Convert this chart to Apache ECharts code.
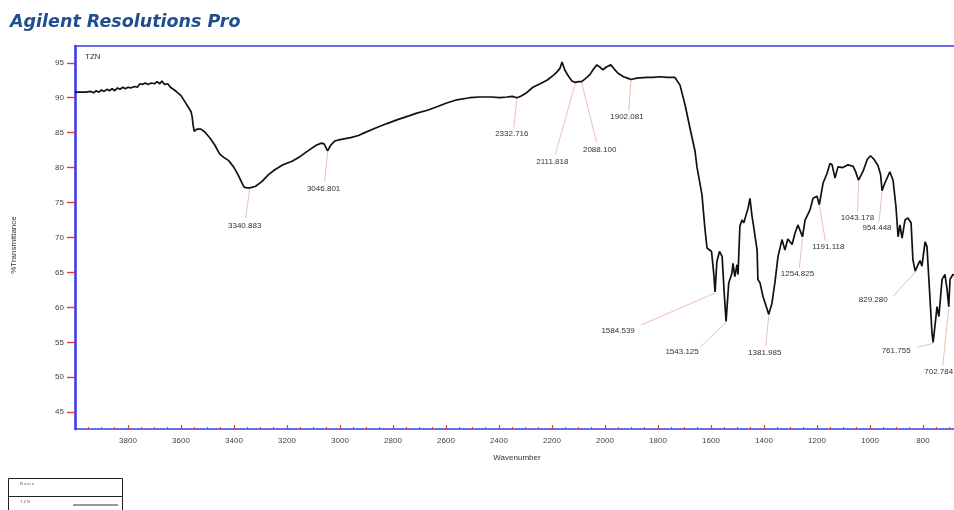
<!DOCTYPE html>
<html>
<head>
<meta charset="utf-8">
<title>TZN FTIR spectrum</title>
<script src="https://cdn.jsdelivr.net/npm/echarts@6/dist/echarts.min.js"></script>
<style>
  html, body { margin: 0; padding: 0; background: #ffffff; }
  #chart { width: 954px; height: 510px; }
</style>
</head>
<body>
<div id="chart"></div>
<script>
// FTIR spectrum of sample TZN: wavenumber (cm-1) and % transmittance
const wavenumbers = [
  4000, 3960, 3940, 3930, 3920, 3910, 3900, 3890, 3880, 3870, 3860, 3850, 3840, 3830, 3820, 3810,
  3800, 3790, 3775, 3765, 3755, 3745, 3735, 3725, 3712, 3700, 3690, 3680, 3672, 3662, 3650, 3640,
  3625, 3612, 3600, 3585, 3570, 3562, 3558, 3554, 3550, 3540, 3525, 3510, 3490, 3472, 3455, 3440,
  3420, 3400, 3385, 3370, 3362, 3350, 3340.883, 3320, 3295, 3270, 3246, 3215, 3181, 3150, 3121,
  3090, 3070, 3060, 3046.801, 3035, 3020, 3000, 2960, 2930, 2913, 2870, 2823, 2780, 2740, 2710,
  2670, 2634, 2600, 2559, 2510, 2472, 2430, 2396, 2370, 2350, 2332.716, 2318, 2300, 2272, 2245,
  2219, 2195, 2181, 2170, 2162, 2152, 2140, 2125, 2111.818, 2100, 2088.1, 2075, 2057, 2045, 2031,
  2020, 2008, 1995, 1978, 1965, 1951, 1930, 1915, 1902.081, 1880, 1842, 1820, 1793, 1765, 1736,
  1717, 1698, 1679, 1660, 1653, 1634, 1623, 1615, 1608, 1598, 1590, 1584.539, 1578, 1568, 1558,
  1550, 1543.125, 1533, 1521, 1517, 1510, 1502, 1498, 1491, 1483, 1476, 1468, 1460, 1453, 1445,
  1440, 1426, 1423, 1415, 1404, 1381.985, 1370, 1359, 1347, 1332, 1321, 1310, 1294, 1283, 1272,
  1254.825, 1245, 1226, 1215, 1200, 1191.118, 1177, 1162, 1151, 1143, 1132, 1121, 1102, 1083, 1064,
  1055, 1043.178, 1026, 1010, 998, 985, 970, 960, 954.448, 944, 925, 913, 902, 894, 887, 879, 868,
  857, 845, 838, 829.28, 819, 811, 804, 792, 785, 777, 766, 761.755, 751, 747, 740, 728, 717, 709,
  702.784, 698, 687, 670, 650
];
const transmittance = [
  90.8, 90.8, 90.9, 90.7, 91.0, 90.8, 91.1, 90.9, 91.2, 91.0, 91.3, 91.0, 91.4, 91.2, 91.5, 91.3,
  91.5, 91.4, 91.6, 91.5, 92.0, 91.9, 92.1, 91.9, 92.1, 92.0, 92.3, 92.0, 92.4, 91.9, 92.0, 91.5,
  91.1, 90.7, 90.3, 89.4, 88.5, 88.0, 87.3, 86.0, 85.2, 85.5, 85.5, 85.1, 84.2, 83.2, 82.0, 81.5,
  81.0, 80.0, 79.0, 77.8, 77.2, 77.1, 77.1, 77.3, 78.0, 79.0, 79.7, 80.4, 80.9, 81.6, 82.4,
  83.2, 83.5, 83.4, 82.4, 83.2, 83.8, 84.0, 84.3, 84.6, 84.9, 85.6, 86.3, 86.9, 87.4, 87.8,
  88.2, 88.7, 89.2, 89.7, 90.0, 90.1, 90.1, 90.0, 90.1, 90.2, 90.0, 90.2, 90.6, 91.5, 92.0,
  92.5, 93.2, 93.7, 94.2, 95.1, 94.0, 93.2, 92.4, 92.2, 92.3, 92.3, 92.7, 93.3, 94.0, 94.7,
  94.4, 94.0, 94.4, 94.7, 94.1, 93.5, 93.0, 92.8, 92.6, 92.8, 92.9, 92.9, 93.0, 92.9, 92.9,
  91.8, 89.0, 85.6, 82.3, 80.1, 76.1, 71.3, 68.5, 68.7, 68.0, 65.0, 62.2, 66.5, 68.0, 67.3,
  62.0, 58.0, 63.5, 64.9, 66.3, 64.4, 66.1, 64.7, 71.6, 72.5, 72.1, 73.2, 74.2, 75.6, 73.0,
  71.8, 68.2, 64.0, 63.5, 61.6, 59.0, 60.6, 63.5, 67.3, 69.7, 68.2, 69.8, 69.0, 70.6, 71.8,
  70.1, 72.5, 74.0, 75.6, 75.9, 74.7, 77.8, 79.2, 80.6, 80.4, 78.5, 80.1, 80.0, 80.4, 80.2,
  79.5, 78.2, 79.5, 81.2, 81.7, 81.2, 80.3, 79.0, 76.7, 77.8, 79.4, 78.2, 74.4, 70.1, 71.8, 69.9, 72.5,
  72.8, 72.1, 66.8, 65.2, 66.1, 66.7, 65.9, 69.4, 68.7, 63.5, 56.3, 55.0, 58.7, 60.1, 58.7, 64.0, 64.7, 62.5,
  60.1, 64.0, 64.7, 64.5, 64.2
];

// Picked peaks (wavenumbers) labelled on the spectrum
const peakWavenumbers = [
  3340.883, 3046.801, 2332.716, 2111.818, 2088.100, 1902.081, 1584.539, 1543.125,
  1381.985, 1254.825, 1191.118, 1043.178, 954.448, 829.280, 761.755, 702.784
];
const peakLabels = [
  '3340.883', '3046.801', '2332.716', '2111.818', '2088.100', '1902.081', '1584.539', '1543.125',
  '1381.985', '1254.825', '1191.118', '1043.178', '954.448', '829.280', '761.755', '702.784'
];

// Axis tick labels and minor tick positions
const xTickLabels = [3800, 3600, 3400, 3200, 3000, 2800, 2600, 2400, 2200, 2000, 1800, 1600, 1400, 1200, 1000, 800];
const xMinorTicks = [];
for (let w = 3950; w >= 700; w -= 50) if (w % 200 !== 0) xMinorTicks.push(w);
const yTickLabels = [45, 50, 55, 60, 65, 70, 75, 80, 85, 90, 95];

// Visible wavenumber window (the spectrum continues past the right edge)
const X_MAX = 4000;
const X_MIN = 683;

// Leader-line end and label text offsets (pixels from the peak point)
const peakLabelLayout = [
  { lx: -4, ly: 30, tx: -5, ty: 38 },
  { lx: -3, ly: 31, tx: -4, ty: 38 },
  { lx: -3, ly: 30, tx: -5, ty: 36 },
  { lx: -20, ly: 72, tx: -23, ty: 79 },
  { lx: 15, ly: 61, tx: 18, ty: 68 },
  { lx: -2, ly: 31, tx: -4, ty: 37 },
  { lx: -74, ly: 33, tx: -97, ty: 39 },
  { lx: -26, ly: 26, tx: -44, ty: 30 },
  { lx: -3, ly: 31, tx: -4, ty: 38 },
  { lx: -3, ly: 31, tx: -5, ty: 37 },
  { lx: 6, ly: 36, tx: 9, ty: 42 },
  { lx: -1, ly: 32, tx: -1, ty: 38 },
  { lx: -3, ly: 31, tx: -5, ty: 37 },
  { lx: -22, ly: 25, tx: -42, ty: 29 },
  { lx: -16, ly: 5, tx: -37, ty: 8 },
  { lx: -6, ly: 59, tx: -10, ty: 65 }
];

const spectrum = wavenumbers.map((w, i) => [w, transmittance[i]]);
const peakPoints = peakWavenumbers.map((w, i) => {
  let best = 0;
  wavenumbers.forEach((v, j) => { if (Math.abs(v - w) < Math.abs(wavenumbers[best] - w)) best = j; });
  return [w, transmittance[best], i];
});

const FONT = '"Liberation Sans", Arial, sans-serif';
const AXIS_BLUE = '#3c3ce6';
const TICK_RED = '#e23a3a';

const chart = echarts.init(document.getElementById('chart'), null, { renderer: 'canvas' });

const hidden = { show: false };

chart.setOption({
  backgroundColor: '#ffffff',
  animation: false,
  title: {
    text: 'Agilent Resolutions Pro',
    left: 5,
    top: 8,
    textStyle: {
      fontFamily: '"DejaVu Sans", Verdana, sans-serif',
      fontSize: 17.5,
      fontWeight: 'bold',
      fontStyle: 'italic',
      color: '#1f4f91'
    }
  },
  grid: {
    left: 75,
    top: 46,
    right: 0,
    bottom: 81,
    show: false
  },
  xAxis: [
    {
      // main wavenumber axis: blue line, red major ticks, labels
      type: 'value',
      inverse: true,
      min: X_MIN,
      max: X_MAX,
      position: 'bottom',
      axisLine: { show: true, lineStyle: { color: AXIS_BLUE, width: 1.5 } },
      axisTick: {
        show: true,
        inside: true,
        length: 4,
        lineStyle: { color: TICK_RED, width: 1.2 },
        customValues: xTickLabels
      },
      axisLabel: {
        customValues: xTickLabels,
        formatter: (v) => String(v),
        margin: 8,
        fontFamily: FONT,
        fontSize: 8,
        color: '#444'
      },
      splitLine: hidden
    },
    {
      // minor ticks every 50 cm-1
      type: 'value',
      inverse: true,
      min: X_MIN,
      max: X_MAX,
      position: 'bottom',
      axisLine: hidden,
      axisTick: {
        show: true,
        inside: true,
        length: 2,
        lineStyle: { color: TICK_RED, width: 1 },
        customValues: xMinorTicks
      },
      axisLabel: hidden,
      splitLine: hidden
    },
    {
      // top frame line of the plot area
      type: 'value',
      inverse: true,
      min: X_MIN,
      max: X_MAX,
      position: 'top',
      axisLine: { show: true, lineStyle: { color: AXIS_BLUE, width: 1.5 } },
      axisTick: hidden,
      axisLabel: hidden,
      splitLine: hidden
    }
  ],
  yAxis: {
    type: 'value',
    min: 42.6,
    max: 97.4,
    axisLine: { show: true, lineStyle: { color: AXIS_BLUE, width: 2.6 } },
    axisTick: {
      show: true,
      length: 8,
      lineStyle: { color: TICK_RED, width: 1.4 },
      customValues: yTickLabels
    },
    axisLabel: {
      customValues: yTickLabels,
      formatter: (v) => String(v),
      margin: 11,
      fontFamily: FONT,
      fontSize: 8,
      color: '#444'
    },
    splitLine: hidden
  },
  series: [
    {
      name: 'TZN',
      type: 'line',
      xAxisIndex: 0,
      data: spectrum,
      showSymbol: false,
      symbol: 'none',
      lineStyle: { color: '#111111', width: 1.7 },
      z: 3
    },
    {
      name: 'peaks',
      type: 'custom',
      xAxisIndex: 0,
      data: peakPoints,
      clip: false,
      z: 2,
      renderItem: function (params, api) {
        const i = api.value(2);
        const p = api.coord([api.value(0), api.value(1)]);
        const o = peakLabelLayout[i];
        return {
          type: 'group',
          children: [
            {
              type: 'line',
              shape: { x1: p[0], y1: p[1] + 1, x2: p[0] + o.lx, y2: p[1] + o.ly },
              style: { stroke: '#eab9a8', lineWidth: 0.9 }
            },
            {
              type: 'text',
              x: p[0] + o.tx,
              y: p[1] + o.ty,
              style: {
                text: peakLabels[i],
                align: 'center',
                verticalAlign: 'middle',
                fontFamily: FONT,
                fontSize: 8,
                fill: '#333333'
              }
            }
          ]
        };
      }
    }
  ],
  graphic: [
    {
      type: 'text',
      left: 85,
      top: 53,
      style: { text: 'TZN', fontFamily: FONT, fontSize: 8, fill: '#333333' }
    },
    {
      type: 'text',
      x: 14,
      y: 245,
      rotation: Math.PI / 2,
      style: {
        text: '%Transmittance',
        align: 'center',
        verticalAlign: 'middle',
        fontFamily: FONT,
        fontSize: 8,
        fill: '#333333'
      }
    },
    {
      type: 'text',
      x: 517,
      y: 458,
      style: {
        text: 'Wavenumber',
        align: 'center',
        verticalAlign: 'middle',
        fontFamily: FONT,
        fontSize: 8,
        fill: '#333333'
      }
    },
    // small legend table in the lower-left corner
    {
      type: 'rect',
      shape: { x: 8.5, y: 478.5, width: 114, height: 40 },
      style: { fill: '#ffffff', stroke: '#222222', lineWidth: 1 }
    },
    {
      type: 'line',
      shape: { x1: 8.5, y1: 496.5, x2: 122.5, y2: 496.5 },
      style: { stroke: '#222222', lineWidth: 1 }
    },
    {
      type: 'text',
      x: 20,
      y: 484,
      style: { text: 'N a m e', verticalAlign: 'middle', fontFamily: FONT, fontSize: 4, fill: '#555555' }
    },
    {
      type: 'text',
      x: 20,
      y: 502,
      style: { text: 'T Z N', verticalAlign: 'middle', fontFamily: FONT, fontSize: 4, fill: '#555555' }
    },
    {
      type: 'line',
      shape: { x1: 73, y1: 505, x2: 118, y2: 505 },
      style: { stroke: '#333333', lineWidth: 1.2 }
    }
  ]
});
</script>
</body>
</html>
